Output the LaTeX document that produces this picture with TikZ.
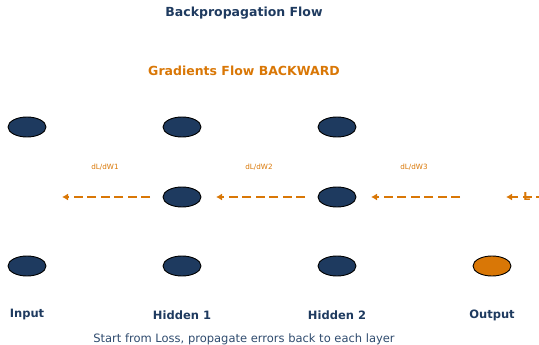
\documentclass[tikz,border=0pt]{standalone}
\usepackage{fontspec}
\setmainfont{DejaVu Sans}
\usepackage{xcolor}
\usetikzlibrary{arrows.meta,positioning,shapes.geometric}
\definecolor{navy}{HTML}{1E3A5F}
\definecolor{gradorange}{HTML}{D97706}
\definecolor{slatetext}{HTML}{2F4B6E}
\tikzset{
  neuron/.style={ellipse,draw=black,line width=0.9pt,fill=navy,minimum width=38pt,minimum height=20pt,inner sep=0pt},
  outneuron/.style={neuron,fill=gradorange},
  layerlabel/.style={font=\fontsize{11.5}{13}\selectfont\bfseries,text=navy},
  gradlabel/.style={font=\fontsize{7.2}{9}\selectfont,text=gradorange},
  gradarrow/.style={-{Latex[length=6pt,width=7pt]},gradorange,line width=2.3pt,dash pattern=on 9pt off 4.5pt}
}
\begin{document}
\begin{tikzpicture}[x=1pt,y=-1pt]
  \useasboundingbox (0,0) rectangle (539,345);
  % titles
  \node[font=\fontsize{12.5}{15}\selectfont\bfseries,text=navy] (title) at (244,13) {Backpropagation Flow};
  \node[font=\fontsize{12.5}{15}\selectfont\bfseries,text=gradorange] (flow) at (244,71) {Gradients Flow BACKWARD};
  % neurons
  \node[neuron] (in1) at (27,127) {};
  \node[neuron] (in3) at (27,266) {};
  \node[neuron] (ha1) at (182,127) {};
  \node[neuron] (ha2) at (182,197) {};
  \node[neuron] (ha3) at (182,266) {};
  \node[neuron] (hb1) at (337,127) {};
  \node[neuron] (hb2) at (337,197) {};
  \node[neuron] (hb3) at (337,266) {};
  \node[outneuron] (out) at (492,266) {};
  % layer names
  \node[layerlabel] (lin) at (27,315) {Input};
  \node[layerlabel] (lha) at (182,315) {Hidden 1};
  \node[layerlabel] (lhb) at (337,315) {Hidden 2};
  \node[layerlabel] (lout) at (492,315) {Output};
  % gradient arrows
  \coordinate (g1s) at (150,197);
  \coordinate (g1e) at (62,197);
  \coordinate (g2s) at (305,197);
  \coordinate (g2e) at (216,197);
  \coordinate (g3s) at (460,197);
  \coordinate (g3e) at (371,197);
  \coordinate (g4s) at (545,197);
  \coordinate (g4e) at (506,197);
  \draw[gradarrow] (g1s) -- (g1e);
  \draw[gradarrow] (g2s) -- (g2e);
  \draw[gradarrow] (g3s) -- (g3e);
  \draw[gradarrow] (g4s) -- (g4e);
  \node[font=\fontsize{11}{13}\selectfont\bfseries,text=gradorange] (loss) at (527,196) {L};
  \node[gradlabel] (dw1) at (105,167) {dL/dW1};
  \node[gradlabel] (dw2) at (259,167) {dL/dW2};
  \node[gradlabel] (dw3) at (414,167) {dL/dW3};
  % caption
  \node[font=\fontsize{11.5}{13}\selectfont,text=slatetext] (note) at (244,339) {Start from Loss, propagate errors back to each layer};
\end{tikzpicture}
\end{document}
